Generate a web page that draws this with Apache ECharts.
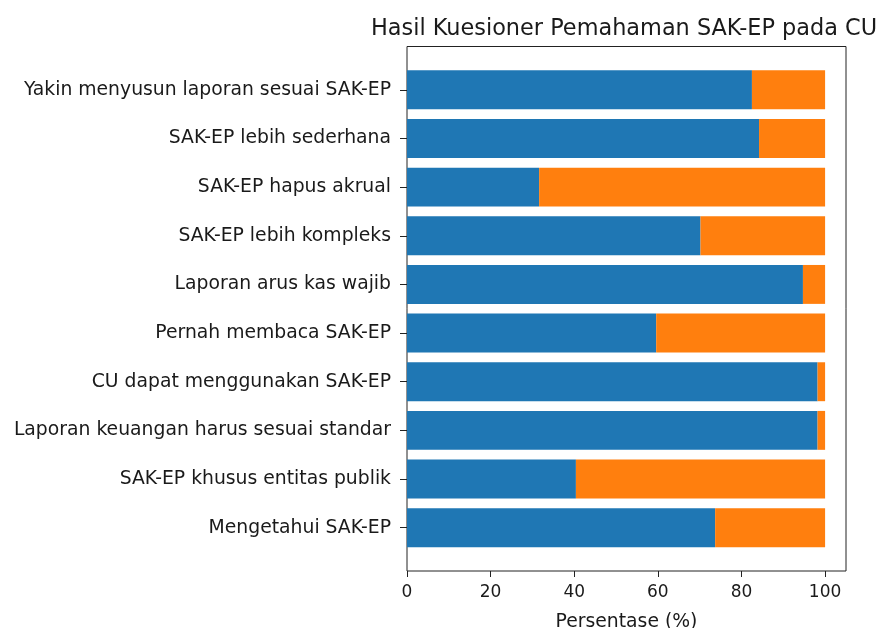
<!DOCTYPE html>
<html>
<head>
<meta charset="utf-8">
<script src="https://cdn.jsdelivr.net/npm/echarts@6/dist/echarts.min.js"></script>
<style>html,body{margin:0;padding:0;background:#fff}#c{width:884px;height:628px}</style>
</head>
<body>
<div id="c"></div>
<script>
const categories = [
  "Yakin menyusun laporan sesuai SAK-EP",
  "SAK-EP lebih sederhana",
  "SAK-EP hapus akrual",
  "SAK-EP lebih kompleks",
  "Laporan arus kas wajib",
  "Pernah membaca SAK-EP",
  "CU dapat menggunakan SAK-EP",
  "Laporan keuangan harus sesuai standar",
  "SAK-EP khusus entitas publik",
  "Mengetahui SAK-EP"
];
const blueValues = [82.5, 84.2, 31.6, 70.2, 94.7, 59.6, 98.2, 98.2, 40.4, 73.7];
const orangeValues = [17.5, 15.8, 68.4, 29.8, 5.3, 40.4, 1.8, 1.8, 59.6, 26.3];
const xTicks = [0, 20, 40, 60, 80, 100];
const titleText = "Hasil Kuesioner Pemahaman SAK-EP pada CU";
const xName = "Persentase (%)";

const font = "DejaVu Sans";
const txt = "#1a1a1a";
const chart = echarts.init(document.getElementById('c'), null, {renderer: 'canvas'});
chart.setOption({
  animation: false,
  backgroundColor: '#fff',
  title: {
    text: titleText,
    left: 619, top: 13, textAlign: 'center',
    textStyle: {fontFamily: font, fontSize: 22.4, fontWeight: 'normal', color: txt}
  },
  grid: [
    {left: 407, right: 38, top: 65.5, bottom: 76, show: false, containLabel: false, outerBoundsMode: 'none'},
    {left: 407, right: 38, top: 46.5, bottom: 57, show: true, borderColor: '#222', borderWidth: 1,
     backgroundColor: 'transparent', containLabel: false, outerBoundsMode: 'none'}
  ],
  xAxis: [
    {gridIndex: 0, type: 'value', min: 0, max: 105, show: false},
    {gridIndex: 1, type: 'value', min: 0, max: 105, interval: 20,
     axisLine: {show: false}, splitLine: {show: false},
     axisTick: {show: true, length: 6, lineStyle: {color: '#222'}, customValues: xTicks},
     axisLabel: {fontFamily: font, fontSize: 17, color: txt, margin: 13, customValues: xTicks},
     name: xName, nameLocation: 'middle', nameGap: 42,
     nameTextStyle: {fontFamily: font, fontSize: 18.8, color: txt}}
  ],
  yAxis: [
    {gridIndex: 0, type: 'category', data: categories, inverse: true,
     axisLine: {show: false},
     axisTick: {show: true, alignWithLabel: true, length: 7, lineStyle: {color: '#222'}},
     axisLabel: {fontFamily: font, fontSize: 18.8, color: txt, margin: 16}},
    {gridIndex: 1, type: 'value', show: false}
  ],
  series: [
    {type: 'bar', xAxisIndex: 0, yAxisIndex: 0, stack: 's', data: blueValues, barWidth: '80%',
     itemStyle: {color: '#1f77b4'}},
    {type: 'bar', xAxisIndex: 0, yAxisIndex: 0, stack: 's', data: orangeValues, barWidth: '80%',
     itemStyle: {color: '#ff7f0e'}}
  ]
});
</script>
</body>
</html>
